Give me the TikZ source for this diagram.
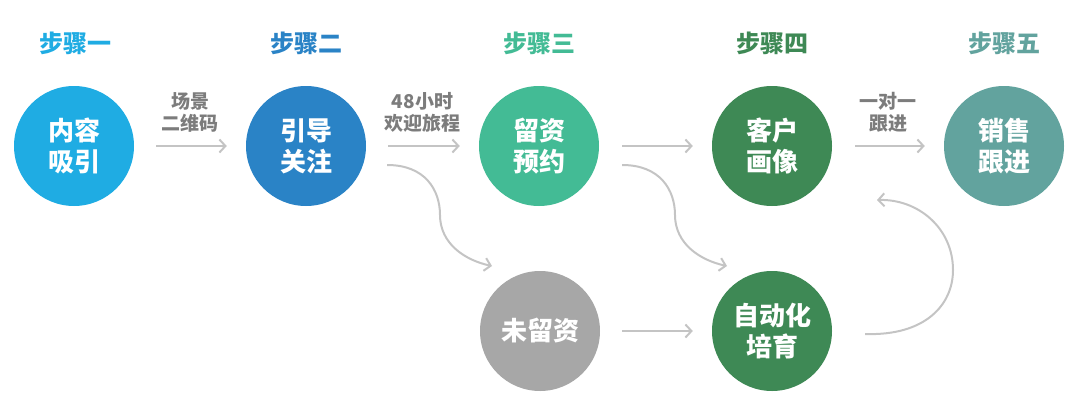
\documentclass[tikz,border=0pt]{standalone}
\usepackage{fontspec}
\setmainfont{Noto Sans CJK SC}
\usetikzlibrary{arrows.meta}
\definecolor{stepa}{HTML}{1FACE3}
\definecolor{stepb}{HTML}{2A83C6}
\definecolor{stepc}{HTML}{43BB95}
\definecolor{stepd}{HTML}{3E8955}
\definecolor{stepe}{HTML}{62A39E}
\definecolor{nogray}{HTML}{A7A7A7}
\definecolor{flowgray}{HTML}{C4C4C4}
\definecolor{labelgray}{HTML}{7C7C7C}
\tikzset{
  stepnode/.style={circle,minimum size=120pt,inner sep=0pt,text=white,align=center,
    font=\fontsize{26}{31}\selectfont\bfseries},
  steptitle/.style={font=\fontsize{24}{26}\selectfont\bfseries},
  flow/.style={draw=flowgray,line width=2pt,-{Straight Barb[length=6pt,width=13pt]}},
  flowlabel/.style={text=labelgray,align=center,font=\fontsize{19}{22}\selectfont\bfseries}
}
\begin{document}
\begin{tikzpicture}[x=1pt,y=-1pt]
\useasboundingbox (0,0) rectangle (1080,413);
% titles
\node[steptitle,text=stepa] (t1) at (75,43) {步骤一};
\node[steptitle,text=stepb] (t2) at (306,43) {步骤二};
\node[steptitle,text=stepc] (t3) at (539,43) {步骤三};
\node[steptitle,text=stepd] (t4) at (772,43) {步骤四};
\node[steptitle,text=stepe] (t5) at (1004,43) {步骤五};
% steps
\node[stepnode,fill=stepa] (s1) at (74,146) {内容\\吸引};
\node[stepnode,fill=stepb] (s2) at (306,146) {引导\\关注};
\node[stepnode,fill=stepc] (s3) at (539,146) {留资\\预约};
\node[stepnode,fill=stepd] (s4) at (772,146) {客户\\画像};
\node[stepnode,fill=stepe] (s5) at (1004,146) {销售\\跟进};
\node[stepnode,fill=nogray] (n6) at (540,331) {未留资};
\node[stepnode,fill=stepd] (n7) at (772,331) {自动化\\培育};
% main flow
\draw[flow,shorten <=22pt,shorten >=19pt] (s1) -- node (l1) [flowlabel,midway,yshift=34pt] {场景\\二维码} (s2);
\draw[flow,shorten <=22pt,shorten >=19pt] (s2) -- node (l2) [flowlabel,midway,yshift=34pt] {48小时\\欢迎旅程} (s3);
\draw[flow,shorten <=23pt,shorten >=19pt] (s3) -- (s4);
\draw[flow,shorten <=23pt,shorten >=19pt] (s4) -- node (l4) [flowlabel,midway,yshift=34pt] {一对一\\跟进} (s5);
\draw[flow,shorten <=22pt,shorten >=19pt] (n6) -- (n7);
% side branches
\draw[flow] ([shift={(21pt,-19pt)}]s2.east) .. controls +(38,0) and +(0,-25) .. (440,215)
  .. controls +(0,28) and +(-28,-6) .. ([shift={(-48pt,65pt)}]n6.center);
\draw[flow] ([shift={(23pt,-19pt)}]s3.east) .. controls +(38,0) and +(0,-25) .. (675,215)
  .. controls +(0,28) and +(-28,-6) .. ([shift={(-45pt,65pt)}]n7.center);
\draw[flow] ([shift={(33pt,-3pt)}]n7.east) .. controls (925,336) and (953,305) .. (953,270)
  .. controls (953,228) and (918,199) .. ([shift={(105pt,-54pt)}]s4.center);
\end{tikzpicture}
\end{document}
